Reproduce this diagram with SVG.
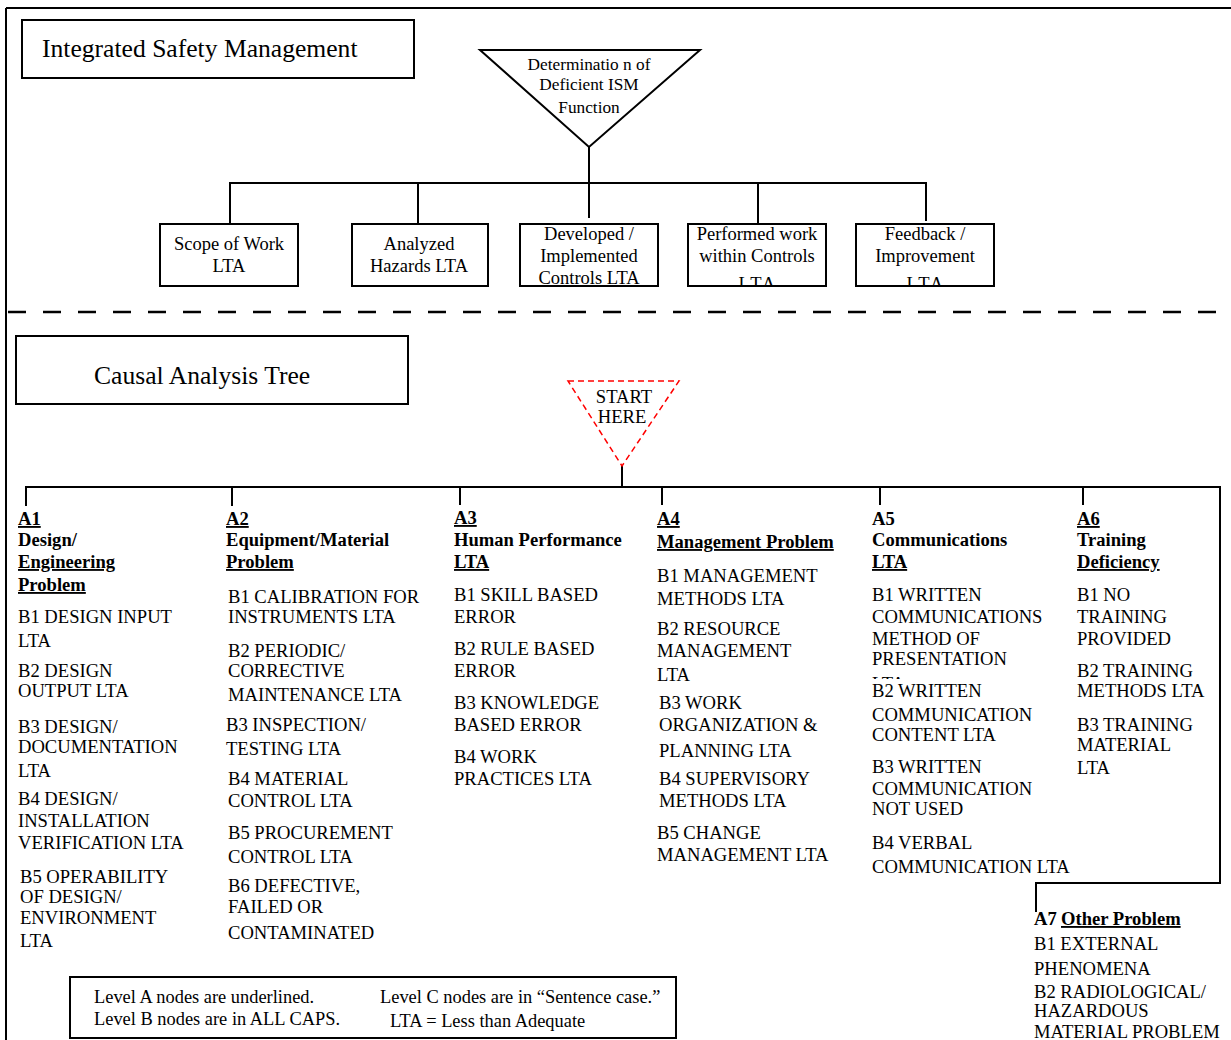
<svg xmlns="http://www.w3.org/2000/svg" width="1231" height="1040" viewBox="0 0 1231 1040">
<style>
.bg{fill:#fff}
.box{fill:#fff;stroke:#000;stroke-width:2}
.ln{fill:none;stroke:#000;stroke-width:2}
.dash{fill:none;stroke:#000;stroke-width:2.5;stroke-dasharray:18 17}
.red{fill:none;stroke:#f00;stroke-width:1.5;stroke-dasharray:6 4}
text{font-family:"Liberation Serif","Times New Roman",serif;font-size:18.6px;fill:#000}
.big{font-size:25.6px}
.bx{font-size:18.5px}
.lg{font-size:18.4px}
.m{text-anchor:middle}
.b{font-weight:bold}
.u{text-decoration:underline}
.sp{letter-spacing:2px}
</style>
<defs>
<clipPath id="clipBox"><rect x="0" y="0" width="1231" height="285"/></clipPath>
<clipPath id="clipHid"><rect x="860" y="670" width="120" height="9"/></clipPath>
</defs>
<rect class="bg" x="0" y="0" width="1231" height="1040"/>

<g id="frame">
<line class="ln" x1="6" y1="8" x2="1231" y2="8"/>
<line class="ln" x1="6" y1="8" x2="6" y2="1040"/>
<line class="dash" x1="8" y1="312" x2="1231" y2="312"/>
</g>

<g id="connectors">
<line class="ln" x1="589" y1="147" x2="589" y2="183"/>
<polyline class="ln" points="230,223 230,183 926,183 926,221"/>
<line class="ln" x1="418" y1="183" x2="418" y2="223"/>
<line class="ln" x1="589" y1="183" x2="589" y2="218"/>
<line class="ln" x1="758" y1="183" x2="758" y2="223"/>
<line class="ln" x1="622" y1="466" x2="622" y2="487"/>
<polyline class="ln" points="26,506 26,487 1220,487 1220,883 1036,883 1036,912"/>
<line class="ln" x1="232" y1="487" x2="232" y2="506"/>
<line class="ln" x1="460" y1="487" x2="460" y2="505"/>
<line class="ln" x1="662" y1="487" x2="662" y2="505"/>
<line class="ln" x1="880" y1="487" x2="880" y2="505"/>
<line class="ln" x1="1083" y1="487" x2="1083" y2="505"/>
</g>

<g id="ism-title">
<rect class="box" x="22" y="20" width="392" height="58"/>
<text class="big" x="42" y="57">Integrated Safety Management</text>
</g>

<g id="ism-root">
<polygon class="box" points="480,50 700,50 589,147"/>
<text class="m" x="589" y="70" style="font-size:17.3px">Determinatio n of</text>
<text class="m" x="589" y="90" style="font-size:17.3px">Deficient ISM</text>
<text class="m" x="589" y="113" style="font-size:17.3px">Function</text>
</g>

<g id="scope">
<rect class="box" x="160" y="224" width="138" height="62"/>
<text class="m bx" x="229" y="250">Scope of Work</text>
<text class="m bx" x="229" y="272">LTA</text>
</g>
<g id="hazards">
<rect class="box" x="352" y="224" width="136" height="62"/>
<text class="m bx" x="419" y="250">Analyzed</text>
<text class="m bx" x="419" y="272">Hazards LTA</text>
</g>
<g id="controls">
<rect class="box" x="520" y="224" width="138" height="62"/>
<text class="m bx" x="589" y="240">Developed /</text>
<text class="m bx" x="589" y="262">Implemented</text>
<text class="m bx" x="589" y="284">Controls LTA</text>
</g>
<g id="performed">
<rect class="box" x="688" y="224" width="138" height="62"/>
<text class="m bx" x="757" y="240">Performed work</text>
<text class="m bx" x="757" y="262">within Controls</text>
<text class="m bx sp" x="758" y="290" clip-path="url(#clipBox)">LTA</text>
</g>
<g id="feedback">
<rect class="box" x="856" y="224" width="138" height="62"/>
<text class="m bx" x="925" y="240">Feedback /</text>
<text class="m bx" x="925" y="262">Improvement</text>
<text class="m bx sp" x="926" y="290" clip-path="url(#clipBox)">LTA</text>
</g>

<g id="cat-title">
<rect class="box" x="16" y="336" width="392" height="68"/>
<text class="big" x="94" y="384">Causal Analysis Tree</text>
</g>

<g id="start">
<polygon class="red" points="568,381 679,381 622,466"/>
<text class="m" x="624" y="403">START</text>
<text class="m" x="622" y="423">HERE</text>
</g>

<g id="A1">
<text class="b u" x="18" y="525">A1</text>
<text class="b" x="18" y="546">Design/</text>
<text class="b u" x="18" y="568">Engineering</text>
<text class="b u" x="18" y="591">Problem</text>
<text x="18" y="623">B1 DESIGN INPUT</text>
<text x="18" y="647">LTA</text>
<text x="18" y="677">B2 DESIGN</text>
<text x="18" y="697">OUTPUT LTA</text>
<text x="18" y="733">B3 DESIGN/</text>
<text x="18" y="753">DOCUMENTATION</text>
<text x="18" y="777">LTA</text>
<text x="18" y="805">B4 DESIGN/</text>
<text x="18" y="827">INSTALLATION</text>
<text x="18" y="849">VERIFICATION LTA</text>
<text x="20" y="883">B5 OPERABILITY</text>
<text x="20" y="903">OF DESIGN/</text>
<text x="20" y="924">ENVIRONMENT</text>
<text x="20" y="947">LTA</text>
</g>

<g id="A2">
<text class="b u" x="226" y="525">A2</text>
<text class="b" x="226" y="546">Equipment/Material</text>
<text class="b u" x="226" y="568">Problem</text>
<text x="228" y="603">B1 CALIBRATION FOR</text>
<text x="228" y="623">INSTRUMENTS LTA</text>
<text x="228" y="657">B2 PERIODIC/</text>
<text x="228" y="677">CORRECTIVE</text>
<text x="228" y="701">MAINTENANCE LTA</text>
<text x="226" y="731">B3 INSPECTION/</text>
<text x="226" y="755">TESTING LTA</text>
<text x="228" y="785">B4 MATERIAL</text>
<text x="228" y="807">CONTROL LTA</text>
<text x="228" y="839">B5 PROCUREMENT</text>
<text x="228" y="863">CONTROL LTA</text>
<text x="228" y="892">B6 DEFECTIVE,</text>
<text x="228" y="913">FAILED OR</text>
<text x="228" y="939">CONTAMINATED</text>
</g>

<g id="A3">
<text class="b u" x="454" y="524">A3</text>
<text class="b" x="454" y="546">Human Performance</text>
<text class="b u" x="454" y="568">LTA</text>
<text x="454" y="601">B1 SKILL BASED</text>
<text x="454" y="623">ERROR</text>
<text x="454" y="655">B2 RULE BASED</text>
<text x="454" y="677">ERROR</text>
<text x="454" y="709">B3 KNOWLEDGE</text>
<text x="454" y="731">BASED ERROR</text>
<text x="454" y="763">B4 WORK</text>
<text x="454" y="785">PRACTICES LTA</text>
</g>

<g id="A4">
<text class="b u" x="657" y="525">A4</text>
<text class="b u" x="657" y="548">Management Problem</text>
<text x="657" y="582">B1 MANAGEMENT</text>
<text x="657" y="605">METHODS LTA</text>
<text x="657" y="635">B2 RESOURCE</text>
<text x="657" y="657">MANAGEMENT</text>
<text x="657" y="681">LTA</text>
<text x="659" y="709">B3 WORK</text>
<text x="659" y="731">ORGANIZATION &amp;</text>
<text x="659" y="757">PLANNING LTA</text>
<text x="659" y="785">B4 SUPERVISORY</text>
<text x="659" y="807">METHODS LTA</text>
<text x="657" y="839">B5 CHANGE</text>
<text x="657" y="861">MANAGEMENT LTA</text>
</g>

<g id="A5">
<text class="b" x="872" y="525">A5</text>
<text class="b" x="872" y="546">Communications</text>
<text class="b u" x="872" y="568">LTA</text>
<text x="872" y="601">B1 WRITTEN</text>
<text x="872" y="623">COMMUNICATIONS</text>
<text x="872" y="645">METHOD OF</text>
<text x="872" y="665">PRESENTATION</text>
<text x="872" y="690" clip-path="url(#clipHid)">LTA</text>
<text x="872" y="697">B2 WRITTEN</text>
<text x="872" y="721">COMMUNICATION</text>
<text x="872" y="741">CONTENT LTA</text>
<text x="872" y="773">B3 WRITTEN</text>
<text x="872" y="795">COMMUNICATION</text>
<text x="872" y="815">NOT USED</text>
<text x="872" y="849">B4 VERBAL</text>
<text x="872" y="873">COMMUNICATION LTA</text>
</g>

<g id="A6">
<text class="b u" x="1077" y="525">A6</text>
<text class="b" x="1077" y="546">Training</text>
<text class="b u" x="1077" y="568">Deficiency</text>
<text x="1077" y="601">B1 NO</text>
<text x="1077" y="623">TRAINING</text>
<text x="1077" y="645">PROVIDED</text>
<text x="1077" y="677">B2 TRAINING</text>
<text x="1077" y="697">METHODS LTA</text>
<text x="1077" y="731">B3 TRAINING</text>
<text x="1077" y="751">MATERIAL</text>
<text x="1077" y="774">LTA</text>
</g>

<g id="A7">
<text class="b" x="1034" y="925">A7</text>
<text class="b u" x="1061" y="925">Other Problem</text>
<text x="1034" y="950">B1 EXTERNAL</text>
<text x="1034" y="975">PHENOMENA</text>
<text x="1034" y="998">B2 RADIOLOGICAL/</text>
<text x="1034" y="1017">HAZARDOUS</text>
<text x="1034" y="1038">MATERIAL PROBLEM</text>
</g>

<g id="legend">
<rect class="box" x="70" y="977" width="606" height="61"/>
<text class="lg" x="94" y="1003">Level A nodes are underlined.</text>
<text class="lg" x="94" y="1025">Level B nodes are in ALL CAPS.</text>
<text class="lg" x="380" y="1003">Level C nodes are in “Sentence case.”</text>
<text class="lg" x="390" y="1027">LTA = Less than Adequate</text>
</g>
</svg>
